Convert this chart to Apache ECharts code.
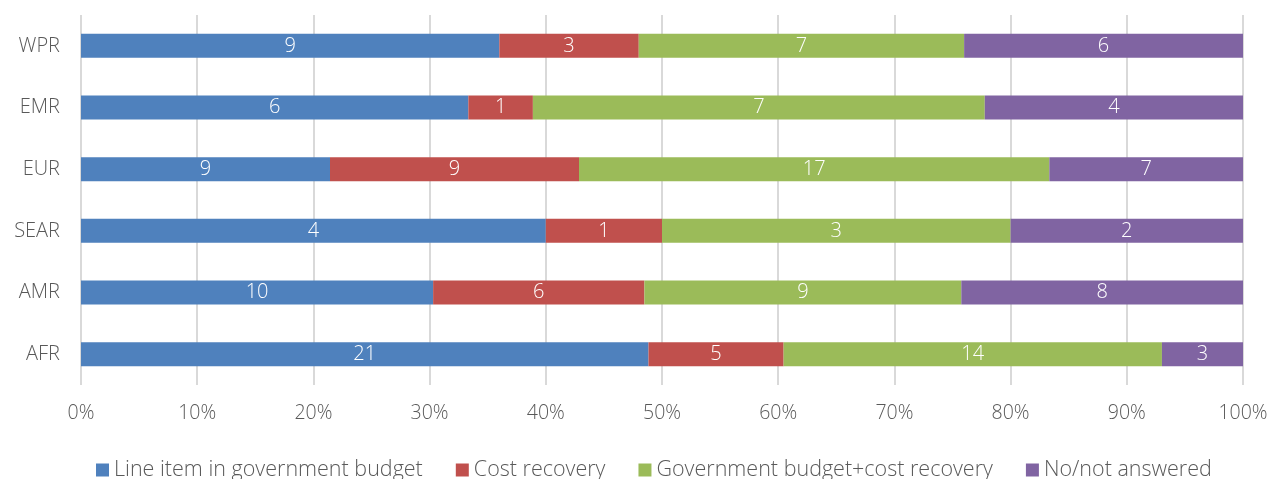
<!DOCTYPE html>
<html>
<head>
<meta charset="utf-8">
<script src="https://cdn.jsdelivr.net/npm/echarts@6/dist/echarts.min.js"></script>
<style>
  html, body { margin: 0; padding: 0; background: #fff; }
  #chart { width: 1272px; height: 479px; }
</style>
</head>
<body>
<div id="chart"></div>
<script>
// regions, bottom to top as drawn on the y axis
const regions = ['AFR', 'AMR', 'SEAR', 'EUR', 'EMR', 'WPR'];
const seriesNames = ['Line item in government budget', 'Cost recovery', 'Government budget+cost recovery', 'No/not answered'];
// counts per region (same order as regions)
const lineItem = [21, 10, 4, 9, 6, 9];
const costRecovery = [5, 6, 1, 9, 1, 3];
const govPlusCost = [14, 9, 3, 17, 7, 7];
const notAnswered = [3, 8, 2, 7, 4, 6];
const colors = ['#4f81bd', '#c0504d', '#9bbb59', '#8064a2'];

const counts = [lineItem, costRecovery, govPlusCost, notAnswered];
const totals = regions.map((r, i) => counts.reduce((s, arr) => s + arr[i], 0));

const font = '"Open Sans", sans-serif';

let series = [];
for (let k = 0; k < counts.length; k++) {
  series.push({
    name: seriesNames[k],
    type: 'bar',
    stack: 'total',
    barWidth: 24,
    itemStyle: {color: colors[k]},
    label: {
      show: true,
      position: 'inside',
      color: '#fff',
      fontSize: 20,
      fontFamily: font,
      fontWeight: 300,
      formatter: p => counts[k][p.dataIndex]
    },
    data: counts[k].map((v, i) => v / totals[i] * 100)
  });
}

const option = {
  animation: false,
  color: colors,
  grid: {left: 81, right: 29, top: 15, bottom: 94},
  legend: {
    top: 454,
    left: 91,
    itemWidth: 13,
    itemHeight: 13,
    itemGap: 33,
    icon: 'rect',
    textStyle: {color: '#595959', fontSize: 21.5, fontFamily: font, fontWeight: 300},
    data: seriesNames
  },
  xAxis: {
    type: 'value',
    min: 0,
    max: 100,
    interval: 10,
    axisLine: {show: false},
    axisTick: {show: false},
    splitLine: {lineStyle: {color: '#d9d9d9', width: 2}},
    axisLabel: {
      color: '#595959',
      fontSize: 19.5,
      fontFamily: font,
      fontWeight: 300,
      margin: 18,
      formatter: v => v + '%'
    }
  },
  yAxis: {
    type: 'category',
    data: regions,
    axisLine: {show: false},
    axisTick: {show: false},
    axisLabel: {
      color: '#595959',
      fontSize: 20,
      fontFamily: font,
      fontWeight: 300,
      margin: 21
    }
  },
  series: series
};

let myChart = echarts.init(document.getElementById('chart'));
myChart.setOption(option);
</script>
</body>
</html>
